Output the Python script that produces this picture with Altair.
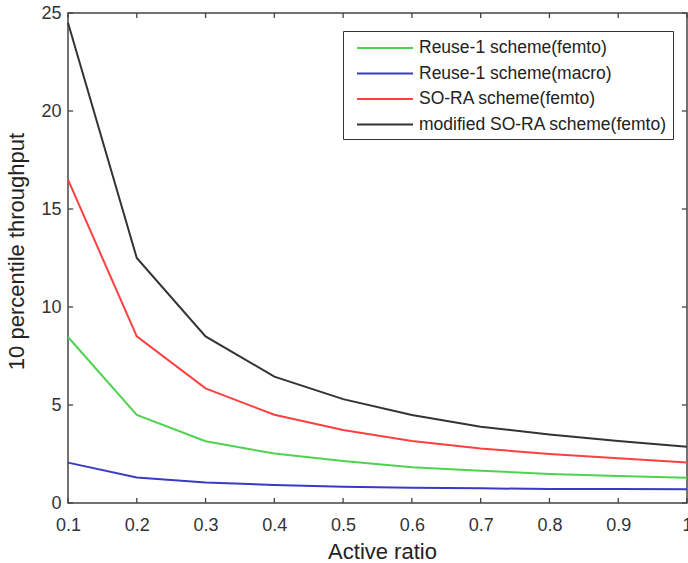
import altair as alt
import pandas as pd

# ---- data ----
ratios = [0.1, 0.2, 0.3, 0.4, 0.5, 0.6, 0.7, 0.8, 0.9, 1.0]
reuse_femto = [8.47, 4.49, 3.15, 2.52, 2.14, 1.82, 1.65, 1.48, 1.38, 1.29]
reuse_macro = [2.06, 1.30, 1.04, 0.92, 0.83, 0.78, 0.75, 0.71, 0.71, 0.70]
sora_femto = [16.5, 8.50, 5.85, 4.50, 3.72, 3.16, 2.78, 2.50, 2.28, 2.07]
mod_sora_femto = [24.5, 12.5, 8.50, 6.45, 5.30, 4.49, 3.89, 3.50, 3.16, 2.87]

series_names = [
    "Reuse-1 scheme(femto)",
    "Reuse-1 scheme(macro)",
    "SO-RA scheme(femto)",
    "modified SO-RA scheme(femto)",
]
series_colors = ["#4fd34f", "#3a3ac4", "#ff4040", "#333333"]

x_ticks = [0.1, 0.2, 0.3, 0.4, 0.5, 0.6, 0.7, 0.8, 0.9, 1.0]
y_ticks = [0, 5, 10, 15, 20, 25]

FONT = "Liberation Sans"

rows = []
for name, vals in zip(series_names, [reuse_femto, reuse_macro, sora_femto, mod_sora_femto]):
    for r, v in zip(ratios, vals):
        rows.append({"ratio": r, "value": v, "series": name})
df = pd.DataFrame(rows)

x_scale = alt.Scale(domain=[0.1, 1.0], nice=False, zero=False)
y_scale = alt.Scale(domain=[0, 25], nice=False)

lines = alt.Chart(df).mark_line(strokeWidth=2).encode(
    x=alt.X("ratio:Q", scale=x_scale,
            axis=alt.Axis(values=x_ticks, format=".1~f", title="Active ratio",
                          grid=False, domain=False, ticks=False, tickSize=0,
                          labelFont=FONT, labelFontSize=18, labelColor="#333",
                          labelPadding=13, labelFlush=False,
                          titleFont=FONT, titleFontSize=22, titleFontWeight="normal",
                          titleColor="#222", titlePadding=7, titleX=314)),
    y=alt.Y("value:Q", scale=y_scale,
            axis=alt.Axis(values=y_ticks, title="10 percentile throughput",
                          grid=False, domain=False, ticks=False, tickSize=0,
                          labelFont=FONT, labelFontSize=18, labelColor="#333",
                          labelPadding=7, labelFlush=False,
                          titleFont=FONT, titleFontSize=22, titleFontWeight="normal",
                          titleColor="#222", titlePadding=12, titleY=238)),
    color=alt.Color("series:N",
                    scale=alt.Scale(domain=series_names, range=series_colors),
                    sort=series_names,
                    legend=alt.Legend(
                        title=None, orient="none", legendX=275, legendY=18,
                        symbolType="M-2.8,0H2.8", symbolSize=400, symbolStrokeWidth=2,
                        symbolOffset=25, labelOffset=23,
                        labelFont=FONT, labelFontSize=17.5, labelColor="#222",
                        labelLimit=400, padding=6, rowPadding=5.5,
                        strokeColor="#333", fillColor="white")),
)

# inner tick marks (MATLAB style), drawn through the scales
TX = 0.0075
TY = 0.26
xt = pd.DataFrame({"t": x_ticks})
yt = pd.DataFrame({"t": y_ticks})
tick_style = dict(color="#444", strokeWidth=1.3)

bottom = alt.Chart(xt).mark_rule(**tick_style).encode(
    x=alt.X("t:Q", scale=x_scale), y=alt.datum(0), y2=alt.datum(TY))
top = alt.Chart(xt).mark_rule(**tick_style).encode(
    x=alt.X("t:Q", scale=x_scale), y=alt.datum(25), y2=alt.datum(25 - TY))
left = alt.Chart(yt).mark_rule(**tick_style).encode(
    y=alt.Y("t:Q", scale=y_scale), x=alt.datum(0.1), x2=alt.datum(0.1 + TX))
right = alt.Chart(yt).mark_rule(**tick_style).encode(
    y=alt.Y("t:Q", scale=y_scale), x=alt.datum(1.0), x2=alt.datum(1.0 - TX))

chart = alt.layer(bottom, top, left, right, lines).properties(
    width=619, height=490,
    padding={"left": 68, "top": 13, "right": 1, "bottom": 60},
    autosize=alt.AutoSizeParams(type="none"),
    background="white",
).configure_view(stroke="#444", strokeWidth=1.5)

chart.save("out.html", embed_options={"renderer": "svg", "actions": False})
